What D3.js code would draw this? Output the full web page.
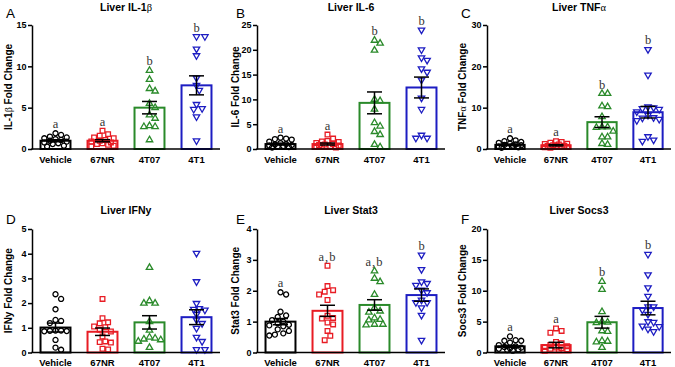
<!DOCTYPE html>
<html>
<head>
<meta charset="utf-8">
<script src="https://cdn.jsdelivr.net/npm/d3@7"></script>
<style>
  body { margin: 0; background: #fff; }
  svg { display: block; font-family: "Liberation Sans", Arial, sans-serif; }
</style>
</head>
<body>
<svg id="fig" width="675" height="367"></svg>
<script>
var groups = ["Vehicle", "67NR", "4T07", "4T1"];
var groupColors = ["#000000", "#e81c24", "#2a8a2a", "#1d1dc2"];
var groupShapes = ["circle", "square", "triangle", "triangleDown"];

// A - IL-1b
var il1bTicks = [0, 5, 10, 15];
var il1bPoints = [
  [1.9, 1.7, 1.5, 1.4, 1.3, 1.2, 1.1, 1.0, 0.9, 0.8, 0.7, 0.6, 0.4, 0.3],
  [2.2, 1.8, 1.6, 1.4, 1.3, 1.1, 1.0, 0.9, 0.8, 0.7, 0.6, 0.5, 0.4, 0.3],
  [9.5, 8.4, 7.3, 7.0, 5.5, 5.0, 4.1, 3.7, 2.8, 2.7, 2.7, 1.1],
  [13.6, 13.6, 12.1, 11.3, 8.6, 7.7, 7.1, 5.4, 4.9, 4.8, 3.9, 1.0]
];
var il1bMeans = [1.0, 1.0, 5.0, 7.7];
var il1bSem = [0.12, 0.13, 0.75, 1.15];
var il1bLetters = ["a", "a", "b", "b"];

// B - IL-6
var il6Ticks = [0, 5, 10, 15, 20, 25];
var il6Points = [
  [2.3, 2.1, 2.0, 1.9, 1.5, 1.2, 1.0, 0.9, 0.8, 0.7, 0.6, 0.5, 0.4, 0.3],
  [2.9, 2.1, 1.6, 1.5, 1.4, 1.2, 1.0, 0.9, 0.8, 0.7, 0.6, 0.5, 0.4, 0.3],
  [21.9, 21.3, 19.9, 10.0, 9.7, 8.0, 5.3, 4.6, 3.5, 2.9, 0.9, 0.4],
  [24.0, 20.0, 18.4, 17.9, 16.2, 15.5, 13.9, 10.3, 8.0, 2.8, 2.2, 2.2]
];
var il6Means = [1.0, 1.0, 9.3, 12.4];
var il6Sem = [0.18, 0.2, 2.2, 2.1];
var il6Letters = ["a", "a", "b", "b"];

// C - TNFa
var tnfTicks = [0, 10, 20, 30];
var tnfPoints = [
  [2.6, 2.1, 1.9, 1.7, 1.5, 1.3, 1.1, 1.0, 0.9, 0.8, 0.6, 0.5, 0.4, 0.3],
  [1.9, 1.7, 1.5, 1.3, 1.2, 1.1, 0.9, 0.8, 0.7, 0.6, 0.5, 0.5, 0.4, 0.3],
  [13.4, 13.4, 10.4, 10.2, 7.8, 5.3, 5.3, 5.2, 4.3, 2.9, 2.9, 1.3, 1.1],
  [24.1, 17.9, 10.2, 10.0, 9.8, 9.6, 9.0, 8.2, 7.6, 7.5, 7.2, 6.9, 3.0, 2.2, 1.9]
];
var tnfMeans = [1.0, 0.9, 6.5, 8.9];
var tnfSem = [0.18, 0.15, 1.3, 1.4];
var tnfLetters = ["a", "a", "b", "b"];

// D - IFNy
var ifnTicks = [0, 1, 2, 3, 4, 5];
var ifnPoints = [
  [2.36, 2.17, 1.75, 1.32, 1.28, 1.19, 0.89, 0.89, 0.88, 0.87, 0.86, 0.51, 0.20, 0.11],
  [2.17, 1.39, 1.22, 1.18, 1.05, 1.02, 0.92, 0.85, 0.65, 0.45, 0.42, 0.40, 0.15, 0.12],
  [3.44, 2.09, 1.99, 1.99, 1.25, 0.90, 0.62, 0.58, 0.54, 0.51, 0.45, 0.20],
  [4.02, 2.87, 1.99, 1.78, 1.75, 1.72, 1.55, 1.32, 1.18, 0.98, 0.62, 0.45, 0.12, 0.12]
];
var ifnMeans = [1.01, 0.84, 1.22, 1.43];
var ifnSem = [0.18, 0.15, 0.27, 0.3];
var ifnLetters = ["", "", "", ""];

// E - Stat3
var stat3Ticks = [0, 1, 2, 3, 4];
var stat3Points = [
  [1.95, 1.88, 1.32, 1.20, 1.15, 1.05, 1.00, 0.95, 0.90, 0.88, 0.85, 0.75, 0.70, 0.62, 0.58, 0.55],
  [2.81, 2.15, 2.02, 1.97, 1.88, 1.70, 1.19, 1.12, 1.10, 0.97, 0.91, 0.70, 0.54, 0.40],
  [2.64, 2.40, 2.29, 1.88, 1.45, 1.34, 1.30, 1.12, 1.07, 1.05, 0.91, 0.91, 0.89],
  [3.16, 2.69, 2.29, 2.24, 2.18, 2.02, 1.94, 1.70, 1.62, 1.62, 1.45, 1.21, 0.40]
];
var stat3Means = [1.0, 1.35, 1.54, 1.86];
var stat3Sem = [0.1, 0.18, 0.17, 0.2];
var stat3Letters = ["a", "a,b", "a,b", "b"];

// F - Socs3
var socs3Ticks = [0, 5, 10, 15, 20];
var socs3Points = [
  [2.6, 2.0, 1.9, 1.9, 1.6, 1.2, 1.0, 0.9, 0.8, 0.7, 0.6, 0.5, 0.4, 0.3],
  [3.9, 3.5, 3.2, 1.7, 1.5, 1.2, 1.0, 0.9, 0.8, 0.7, 0.6, 0.5, 0.4, 0.3],
  [11.5, 10.2, 6.6, 5.0, 4.9, 4.8, 3.5, 3.4, 1.9, 1.8, 1.7, 0.8],
  [15.9, 12.6, 10.5, 9.1, 7.4, 7.4, 6.9, 6.2, 5.0, 4.9, 4.3, 4.2, 3.8, 3.4]
];
var socs3Means = [1.0, 1.2, 4.9, 7.2];
var socs3Sem = [0.15, 0.45, 0.95, 1.1];
var socs3Letters = ["a", "a", "b", "b"];

var panels = [
  {tag: "A", title: "Liver IL-1β", ylab: "IL-1β Fold Change", ticks: il1bTicks, pts: il1bPoints, means: il1bMeans, sem: il1bSem, letters: il1bLetters},
  {tag: "B", title: "Liver IL-6", ylab: "IL-6 Fold Change", ticks: il6Ticks, pts: il6Points, means: il6Means, sem: il6Sem, letters: il6Letters},
  {tag: "C", title: "Liver TNFα", ylab: "TNFα Fold Change", ticks: tnfTicks, pts: tnfPoints, means: tnfMeans, sem: tnfSem, letters: tnfLetters},
  {tag: "D", title: "Liver IFNy", ylab: "IFNy Fold Change", ticks: ifnTicks, pts: ifnPoints, means: ifnMeans, sem: ifnSem, letters: ifnLetters},
  {tag: "E", title: "Liver Stat3", ylab: "Stat3 Fold Change", ticks: stat3Ticks, pts: stat3Points, means: stat3Means, sem: stat3Sem, letters: stat3Letters},
  {tag: "F", title: "Liver Socs3", ylab: "Socs3 Fold Change", ticks: socs3Ticks, pts: socs3Points, means: socs3Means, sem: socs3Sem, letters: socs3Letters}
];

// grid of panels
var colX = [32, 257, 487], colW = [188, 188, 184];
var colLab = [8, 235, 462], colTag = [6, 236, 461];
var rowTop = [25, 229], rowBot = [149, 352.5];
var tagY = [18, 224], titleY = [11, 214];

var svg = d3.select("#fig");

// put greek letters in a serif face like the original
function richText(sel, str) {
  str.split(/([αβ])/).forEach(function(s) {
    if (!s) return;
    var t = sel.append("tspan").text(s);
    if (/[αβ]/.test(s)) t.style("font-family", "'Liberation Serif', serif").style("font-weight", "normal");
  });
}

// spread points sideways like a column scatter
function swarm(vals, y, cx, maxOff) {
  var d = 5.6, dx = 2.8, placed = [];
  var order = vals.map(function(v, i) { return i; })
    .sort(function(a, b) { return vals[b] - vals[a]; });
  order.forEach(function(i) {
    var py = y(vals[i]), best = null, bestGap = -1;
    for (var k = 0; k < 60; k++) {
      var off = Math.ceil(k / 2) * (k % 2 ? 1 : -1) * dx;
      if (Math.abs(off) > maxOff) continue;
      var gap = d3.min(placed, function(p) { return Math.hypot(p.x - (cx + off), p.y - py); });
      if (gap === undefined) gap = Infinity;
      if (gap >= d) { best = off; break; }
      if (gap > bestGap) { bestGap = gap; best = off; }
    }
    placed.push({x: cx + best, y: py, v: vals[i]});
  });
  return placed;
}

panels.forEach(function(p, n) {
  var c = n % 3, r = Math.floor(n / 3);
  var x0 = colX[c], w = colW[c], top = rowTop[r], bot = rowBot[r];
  var g = svg.append("g");

  var x = d3.scaleBand()
    .domain(groups)
    .range([x0, x0 + w])
    .paddingInner(0.32)
    .paddingOuter(0.16);

  var y = d3.scaleLinear()
    .domain([0, d3.max(p.ticks)])
    .range([bot, top]);

  // title, panel letter, y label
  richText(g.append("text")
    .attr("x", x0 + w / 2)
    .attr("y", titleY[r])
    .attr("text-anchor", "middle")
    .style("font-size", "10.5px")
    .style("font-weight", "bold"), p.title);

  g.append("text")
    .attr("x", colTag[c])
    .attr("y", tagY[r])
    .style("font-size", "13.5px")
    .text(p.tag);

  richText(g.append("text")
    .attr("transform", "translate(" + colLab[c] + "," + ((top + bot) / 2) + ") rotate(-90)")
    .attr("dy", "0.35em")
    .attr("text-anchor", "middle")
    .style("font-size", "10px")
    .style("font-weight", "bold"), p.ylab);

  // bars
  g.selectAll(".bar")
    .data(p.means)
    .enter().append("rect")
    .attr("x", function(d, i) { return x(groups[i]) + 1; })
    .attr("width", x.bandwidth() - 2)
    .attr("y", function(d) { return y(d); })
    .attr("height", function(d) { return bot - y(d); })
    .style("fill", "#fff")
    .style("stroke", function(d, i) { return groupColors[i]; })
    .style("stroke-width", 2);

  // points
  p.pts.forEach(function(vals, i) {
    var cx = x(groups[i]) + x.bandwidth() / 2;
    var spots = swarm(vals, y, cx, x.bandwidth() / 2 - 3);
    var col = groupColors[i], shape = groupShapes[i];
    g.append("g")
      .selectAll("path")
      .data(spots)
      .enter().append("path")
      .attr("transform", function(d) { return "translate(" + d.x + "," + d.y + ")" + (shape == "triangleDown" ? " rotate(180)" : ""); })
      .attr("d", function() {
        if (shape == "circle") return d3.symbol().type(d3.symbolCircle).size(20)();
        if (shape == "square") return d3.symbol().type(d3.symbolSquare).size(22)();
        return d3.symbol().type(d3.symbolTriangle).size(18)();
      })
      .style("fill", "none")
      .style("stroke", col)
      .style("stroke-width", 1.3);
  });

  // significance letters
  g.append("g")
    .selectAll("text")
    .data(p.letters)
    .enter().append("text")
    .attr("x", function(d, i) { return x(groups[i]) + x.bandwidth() / 2; })
    .attr("y", function(d, i) { return y(d3.max(p.pts[i])) - 5; })
    .attr("text-anchor", "middle")
    .attr("fill", "#333")
    .style("font-family", "'Liberation Serif', 'Times New Roman', serif")
    .style("font-size", "12.5px")
    .style("letter-spacing", function(d) { return d.length > 1 ? "1px" : "0px"; })
    .text(function(d) { return d; });

  // error bars (mean +/- sem)
  var eb = g.append("g").attr("class", "err")
    .selectAll("g")
    .data(p.means)
    .enter().append("g")
    .attr("transform", function(d, i) { return "translate(" + (x(groups[i]) + x.bandwidth() / 2) + ",0)"; });

  eb.append("line")
    .attr("y1", function(d, i) { return y(d + p.sem[i]); })
    .attr("y2", function(d, i) { return y(d - p.sem[i]); });
  eb.append("line")
    .attr("x1", -7.5).attr("x2", 7.5)
    .attr("y1", function(d, i) { return y(d + p.sem[i]); })
    .attr("y2", function(d, i) { return y(d + p.sem[i]); });
  eb.append("line")
    .attr("x1", -7.5).attr("x2", 7.5)
    .attr("y1", function(d, i) { return y(d - p.sem[i]); })
    .attr("y2", function(d, i) { return y(d - p.sem[i]); });
  eb.selectAll("line")
    .style("stroke", "#000")
    .style("stroke-width", 1.5);

  // axes
  var yAxis = g.append("g")
    .attr("transform", "translate(" + x0 + ",0)")
    .call(d3.axisLeft(y).tickValues(p.ticks).tickFormat(d3.format("d")).tickSize(4).tickSizeOuter(0).tickPadding(1.5));

  var xAxis = g.append("g")
    .attr("transform", "translate(0," + bot + ")")
    .call(d3.axisBottom(x).tickSize(0).tickPadding(7));

  [yAxis, xAxis].forEach(function(a) {
    a.select(".domain").style("stroke", "#000").style("stroke-width", 1.5);
    a.selectAll(".tick line").style("stroke", "#000").style("stroke-width", 1.5);
    a.selectAll("text")
      .style("font-family", "'Liberation Sans', Arial, sans-serif")
      .style("font-weight", "bold")
      .style("fill", "#000");
  });
  yAxis.selectAll("text").style("font-size", "9px");
  xAxis.selectAll("text").style("font-size", "9.5px");
  xAxis.select(".domain").attr("d", "M" + (x0 - 0.75) + ",0H" + (x0 + w));
});
</script>
</body>
</html>
